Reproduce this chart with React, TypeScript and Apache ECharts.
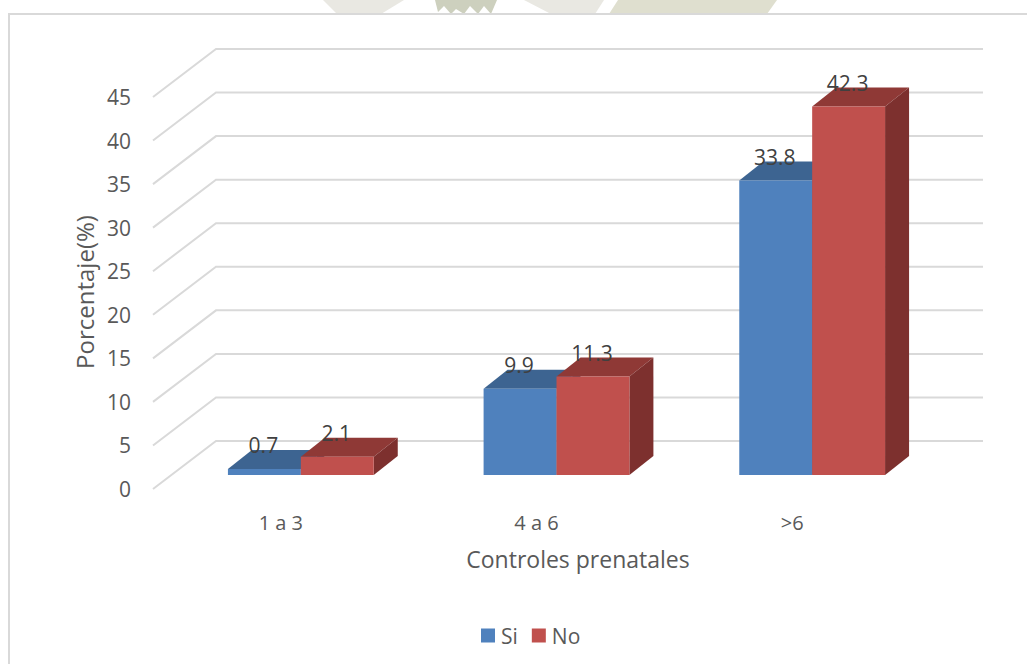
import React, { useEffect, useRef } from "react";
import * as echarts from "echarts";

const categories = ["1 a 3", "4 a 6", ">6"];
const siValues = [0.7, 9.9, 33.8];
const noValues = [2.1, 11.3, 42.3];
const wallTicks = [0, 5, 10, 15, 20, 25, 30, 35, 40, 45];

const FONT = "'Open Sans', sans-serif";
const TEXT = "#595959";

// Oblique projection of the 3D column chart, in pixels
const WALL_DX = 63;
const WALL_DY = -48;
const BAR_PLANE_DX = 20;
const BAR_PLANE_DY = -14;
const BAR_DX = 24;
const BAR_DY = -19;
const BAR_BAND_RATIO = 73 / 256;

function wallLine(params: any, api: any) {
  const y = api.coord([0, api.value(1)])[1];
  const width = params.coordSys.width;
  const sx = params.coordSys.x;
  return {
    type: "polyline",
    shape: {
      points: [
        [sx, y],
        [sx + WALL_DX, y + WALL_DY],
        [sx + WALL_DX + width, y + WALL_DY],
      ],
    },
    style: { stroke: "#D9D9D9", lineWidth: 2, fill: "none" },
  };
}

function columns(front: string, top: string, side: string, seriesOffset: number) {
  return (_params: any, api: any) => {
    const cat = api.value(0);
    const value = api.value(1);
    const band = api.size([1, 0])[0];
    const w = band * BAR_BAND_RATIO;
    const base = api.coord([cat, 0]);
    const head = api.coord([cat, value]);
    const xl = base[0] + BAR_PLANE_DX + seriesOffset * w;
    const xr = xl + w;
    const yb = base[1] + BAR_PLANE_DY;
    const yt = head[1] + BAR_PLANE_DY;
    return {
      type: "group",
      children: [
        {
          type: "polygon",
          shape: { points: [[xl, yt], [xl + BAR_DX, yt + BAR_DY], [xr + BAR_DX, yt + BAR_DY], [xr, yt]] },
          style: { fill: top },
        },
        {
          type: "polygon",
          shape: { points: [[xr, yb], [xr, yt], [xr + BAR_DX, yt + BAR_DY], [xr + BAR_DX, yb + BAR_DY]] },
          style: { fill: side },
        },
        { type: "rect", shape: { x: xl, y: yt, width: w, height: yb - yt }, style: { fill: front } },
        {
          type: "text",
          z2: 10,
          style: {
            text: String(value),
            x: xl + w / 2 - 1,
            y: yt - 24,
            align: "center",
            verticalAlign: "middle",
            font: `21px ${FONT}`,
            fill: "#404040",
          },
        },
      ],
    };
  };
}

// Faint emblem printed on the page behind the chart, cut off by the frame
const emblem = (points: number[][], fill: string) => ({
  type: "polygon",
  silent: true,
  z: -2,
  shape: { points },
  style: { fill },
});

export default function App() {
  const ref = useRef<HTMLDivElement>(null);

  useEffect(() => {
    const chart = echarts.init(ref.current!, undefined, { renderer: "svg" });
    chart.setOption({
      animation: false,
      backgroundColor: "#ffffff",
      textStyle: { fontFamily: FONT },
      grid: { left: 153, top: 97, width: 767, height: 392 },
      graphic: [
        emblem([[323, 0], [404, 0], [381, 14], [337, 14]], "#E9E8E2"),
        emblem([[435, 0], [497, 0], [491, 14], [484, 6], [478, 14], [470, 6], [464, 14], [456, 9], [451, 14], [444, 6], [438, 12]], "#CDD0BE"),
        emblem([[524, 0], [604, 0], [595, 14], [551, 14]], "#E9E8E2"),
        emblem([[618, 0], [777, 0], [767, 14], [609, 14]], "#DFDFCF"),
        {
          type: "rect",
          silent: true,
          z: -1,
          shape: { x: 9, y: 14, width: 1100, height: 700 },
          style: { fill: "#fff", stroke: "#D9D9D9", lineWidth: 2 },
        },
        {
          type: "text",
          style: {
            text: "Controles prenatales",
            x: 578,
            y: 559,
            align: "center",
            verticalAlign: "middle",
            font: `23px ${FONT}`,
            fill: TEXT,
          },
        },
        {
          type: "text",
          rotation: Math.PI / 2,
          x: 84,
          y: 292,
          style: {
            text: "Porcentaje(%)",
            align: "center",
            verticalAlign: "middle",
            font: `24px ${FONT}`,
            fill: TEXT,
          },
        },
      ],
      legend: {
        data: ["Si", "No"],
        left: 481,
        top: 625,
        icon: "rect",
        itemWidth: 14,
        itemHeight: 14,
        itemGap: 14,
        textStyle: { fontFamily: FONT, fontSize: 21, color: TEXT, padding: [0, 0, 0, 1] },
        padding: 0,
      },
      xAxis: {
        type: "category",
        data: categories,
        axisLine: { show: false },
        axisTick: { show: false },
        axisLabel: { fontFamily: FONT, fontSize: 20, color: TEXT, margin: 23 },
      },
      yAxis: {
        type: "value",
        min: 0,
        max: 45,
        interval: 5,
        axisLine: { show: false },
        axisTick: { show: false },
        splitLine: { show: false },
        axisLabel: { fontFamily: FONT, fontSize: 21, color: TEXT, margin: 22 },
      },
      series: [
        {
          type: "custom",
          name: "wall",
          silent: true,
          z: 1,
          data: wallTicks.map((t) => [0, t]),
          renderItem: wallLine,
        },
        {
          type: "custom",
          name: "Si",
          z: 2,
          itemStyle: { color: "#4F81BD" },
          data: siValues.map((v, i) => [i, v]),
          renderItem: columns("#4F81BD", "#3D6491", "#2F4D70", -1),
        },
        {
          type: "custom",
          name: "No",
          z: 3,
          itemStyle: { color: "#C0504D" },
          data: noValues.map((v, i) => [i, v]),
          renderItem: columns("#C0504D", "#8F3936", "#7D302E", 0),
        },
      ],
    });
    return () => chart.dispose();
  }, []);

  return <div ref={ref} style={{ position: "fixed", left: 0, top: 0, width: 1027, height: 664 }} />;
}
